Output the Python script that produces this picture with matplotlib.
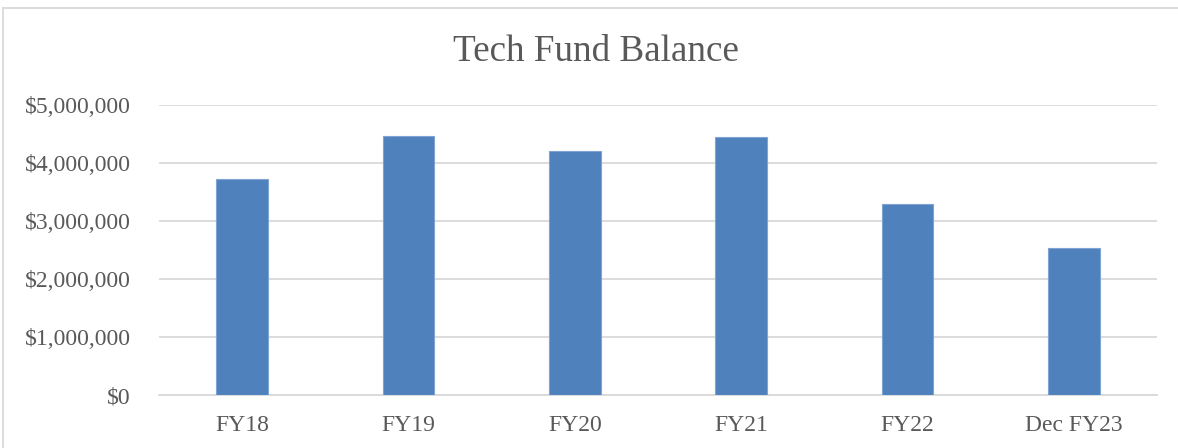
import matplotlib.pyplot as plt
from matplotlib.lines import Line2D
from matplotlib.ticker import FuncFormatter

categories = ["FY18", "FY19", "FY20", "FY21", "FY22", "Dec FY23"]
balances = [3720000, 4460000, 4200000, 4450000, 3300000, 2540000]

plt.rcParams['font.family'] = ['Liberation Serif', 'DejaVu Serif']

fig = plt.figure(figsize=(11.78, 4.48), dpi=100)
W, H = 1178, 448
ax = fig.add_axes([158.8 / W, 52.7 / H, (1157.2 - 158.8) / W, 290.6 / H])

ax.bar(range(len(categories)), balances, width=0.31, color='#4f81bd',
       edgecolor='#7fa3d2', linewidth=0.8, zorder=3)

ax.set_xlim(-0.5, len(categories) - 0.5)
ax.set_ylim(0, 5000000)
ax.set_yticks(range(0, 5000001, 1000000))
ax.yaxis.set_major_formatter(FuncFormatter(lambda v, p: f"${v:,.0f}"))
ax.set_xticks(range(len(categories)))
ax.set_xticklabels(categories)

ax.grid(axis='y', color='#d9d9d9', linewidth=1.3, zorder=0)
for s in ['top', 'right', 'left']:
    ax.spines[s].set_visible(False)
ax.spines['bottom'].set_color('#d9d9d9')
ax.spines['bottom'].set_linewidth(1.3)
ax.tick_params(axis='both', length=0, labelsize=17, labelcolor='#595959')
ax.tick_params(axis='y', pad=20)
ax.tick_params(axis='x', pad=14)

fig.text(596 / W, 1 - 52 / H, "Tech Fund Balance", ha='center', va='center',
         fontsize=26.7, color='#595959')

# chart border (top and left edges visible)
fig.add_artist(Line2D([3 / W, 1.0], [1 - 8.5 / H, 1 - 8.5 / H], color='#d9d9d9', linewidth=1.3))
fig.add_artist(Line2D([3 / W, 3 / W], [0, 1 - 8.5 / H], color='#d9d9d9', linewidth=1.3))

fig.savefig("out.png", dpi=100)
